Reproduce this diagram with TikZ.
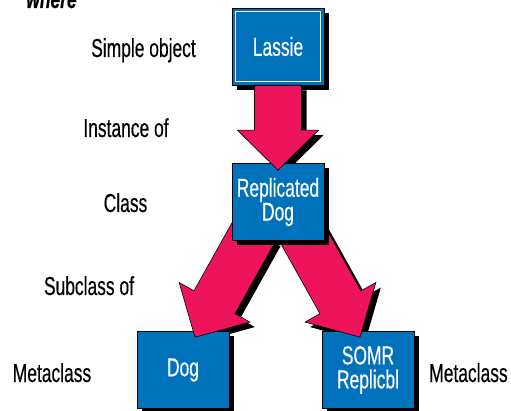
\documentclass[tikz,border=0pt]{standalone}
\usepackage{fontspec}
\setmainfont{Liberation Sans}[FakeStretch=0.67,FakeBold=0.4]
\usetikzlibrary{calc,shadows}
\pgfdeclarelayer{shd}
\pgfdeclarelayer{diag}
\pgfdeclarelayer{repl}
\pgfdeclarelayer{vert}
\pgfsetlayers{shd,main,diag,repl,vert}
\definecolor{boxblue}{RGB}{0,114,188}
\definecolor{arrred}{RGB}{237,20,91}
\tikzset{
 box/.style={draw=black, line width=0.6pt, fill=boxblue, text=white,
   minimum width=92pt, minimum height=77pt, inner sep=0pt, align=center,
   font=\fontsize{26}{24}\selectfont,
   drop shadow={shadow xshift=5pt, shadow yshift=-5pt, fill=black, opacity=1}},
 lbl/.style={anchor=base, font=\fontsize{26}{24}\selectfont, inner sep=0pt},
 fat/.style={fill=arrred, draw=black, line width=0.6pt, line join=miter},
}
\newcommand\fatpts[3]{%
 \coordinate (#3h) at ($(#2)!40pt!(#1)$);
 \coordinate (#3a) at ($(#1)!23.5pt!90:(#2)$);
 \coordinate (#3b) at ($(#3h)!23.5pt!90:(#2)$);
 \coordinate (#3c) at ($(#3h)!40.5pt!90:(#2)$);
 \coordinate (#3d) at ($(#3h)!40.5pt!-90:(#2)$);
 \coordinate (#3e) at ($(#3h)!23.5pt!-90:(#2)$);
 \coordinate (#3f) at ($(#1)!23.5pt!-90:(#2)$);
}
\newcommand\fatshadow[2]{%
 \fill[black] ([shift={(5pt,-5pt)}]#1a) -- ([shift={(5pt,-5pt)}]#1b) -- ([shift={(5pt,-5pt)}]#1c)
  -- ([shift={(5pt,-5pt)}]#2) -- ([shift={(5pt,-5pt)}]#1d) -- ([shift={(5pt,-5pt)}]#1e)
  -- ([shift={(5pt,-5pt)}]#1f) -- cycle;
}
\newcommand\fatfill[2]{%
 \draw[fat] (#1a) -- (#1b) -- (#1c) -- (#2) -- (#1d) -- (#1e) -- (#1f) -- cycle;
}
\begin{document}
\begin{tikzpicture}[x=1pt,y=-1pt]
\useasboundingbox (0,0) rectangle (511,411);

% boxes
\node[box] (lassie) at (278,46.5) {Lassie};
\draw[white, line width=0.8pt] ([shift={(4pt,-4pt)}]lassie.north west) rectangle ([shift={(-4pt,4pt)}]lassie.south east);
\node[box] (dog) at (183,370) {Dog};
\node[box] (somr) at (368,370) {SOMR\\Replicbl};
\begin{pgfonlayer}{repl}
\node[box] (rep) at (278,202) {Replicated\\Dog};
\end{pgfonlayer}

% arrow end points
\coordinate (vt) at (lassie.south);
\coordinate (vp) at ([yshift=-7pt]rep.north);
\coordinate (lt) at ([shift={(-23pt,11pt)}]rep.south);
\coordinate (lp) at ([shift={(12pt,-6pt)}]dog.north);
\coordinate (rt) at ([shift={(22pt,11pt)}]rep.south);
\coordinate (rp) at ([shift={(-8pt,-6pt)}]somr.north);
\fatpts{vt}{vp}{v}
\fatpts{lt}{lp}{l}
\fatpts{rt}{rp}{r}

\begin{pgfonlayer}{shd}
\fatshadow{v}{vp}
\fatshadow{l}{lp}
\fatshadow{r}{rp}
\end{pgfonlayer}
\begin{pgfonlayer}{diag}
\fatfill{l}{lp}
\fatfill{r}{rp}
\end{pgfonlayer}
\begin{pgfonlayer}{vert}
\fatfill{v}{vp}
\end{pgfonlayer}

% labels
\node[lbl, font=\fontsize{26}{24}\selectfont\bfseries\itshape] (where) at (51.5,8) {where};
\node[lbl] (simple) at (143.5,57) {Simple object};
\node[lbl] (inst) at (126,137) {Instance of};
\node[lbl] (class) at (125.5,212) {Class};
\node[lbl] (sub) at (89,295) {Subclass of};
\node[lbl] (metal) at (52,382) {Metaclass};
\node[lbl] (metar) at (468.5,382) {Metaclass};
\end{tikzpicture}
\end{document}
